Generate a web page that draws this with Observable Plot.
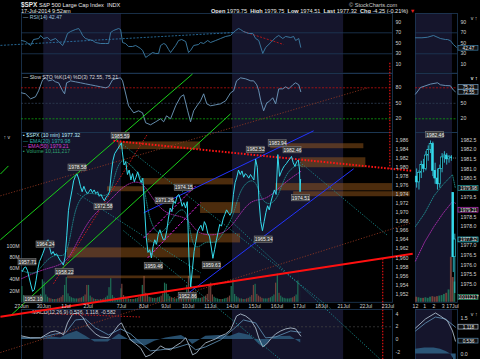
<!DOCTYPE html>
<html><head><meta charset="utf-8">
<script src="https://cdn.jsdelivr.net/npm/d3@7"></script>
<script src="https://cdn.jsdelivr.net/npm/@observablehq/plot@0.6"></script>
<style>
body{margin:0;background:#000;}
#c{position:relative;width:480px;height:359px;overflow:hidden;background:#000;font-family:"Liberation Sans",Arial,sans-serif;}
#c svg{position:absolute;left:0;}
.t{position:absolute;color:#e8e8e8;font-size:5.6px;white-space:nowrap;line-height:6px;}
.t b{font-weight:bold;}
</style></head><body><div id="c">
<div class="t" style="left:21px;top:2px"><b style="font-size:6.4px">$SPX</b> S&amp;P 500 Large Cap Index &nbsp;INDX</div>
<div class="t" style="left:21px;top:7.5px">17-Jul-2014 9:52am</div>
<div class="t" style="left:349px;top:2px;color:#ccc">© StockCharts.com</div>
<div class="t" style="left:211px;top:7.5px"><b>Open</b> 1979.75 &nbsp;<b>High</b> 1979.75 &nbsp;<b>Low</b> 1974.51 &nbsp;<b>Last</b> 1977.32 &nbsp;<b>Chg</b> -4.25 (-0.21%) <span style="color:#e02020">▼</span></div>
</div>
<script>
// ---------------- data ----------------
const dayLabels = ["27Jun","30Jun","1Jul","2Jul","3Jul","7Jul","8Jul","9Jul","10Jul","11Jul","14Jul","15Jul","16Jul","17Jul","18Jul","21Jul","22Jul","23Jul"];
const dayStart  = [0,1,2,3,4,4.5,5.5,6.5,7.5,8.5,9.5,10.5,11.5,12.5,13.5,14.5,15.5,16.5];
const shownDayLabels = ["27Jun","30Jun","1Jul","2Jul","7Jul","8Jul","9Jul","10Jul","11Jul","14Jul","15Jul","16Jul","17Jul","18Jul","21Jul","22Jul","23Jul"];
const barMinutes = [30,30,30,30,30,30,30,30,30,30,30,30,30,10];
const priceCloses = [
 [1957.0,1957.8,1958.0,1957.2,1955.6,1954.0,1952.6,1953.0,1955.0,1957.4,1959.2,1960.0,1961.0],
 [1962.0,1963.6,1964.0,1962.2,1960.8,1961.4,1960.6,1960.9,1960.2,1959.5,1959.0,1958.4,1960.2],
 [1965.0,1970.5,1972.8,1974.8,1977.0,1978.0,1978.5,1977.4,1975.8,1974.6,1975.8,1974.8,1974.2],
 [1974.6,1975.2,1974.4,1975.0,1974.2,1974.6,1973.6,1974.0,1973.2,1972.6,1973.4,1973.8,1974.6],
 [1978.5,1981.5,1983.0,1983.6,1984.2,1984.8,1985.4],
 [1983.4,1980.5,1981.2,1978.4,1979.4,1977.2,1978.6,1976.8,1977.8,1979.0,1977.6,1976.6,1977.6],
 [1971.0,1964.5,1961.2,1961.8,1960.0,1962.5,1964.0,1963.0,1965.2,1966.2,1965.0,1964.0,1964.2],
 [1966.0,1968.8,1971.0,1970.2,1972.6,1972.0,1973.6,1974.0,1973.0,1971.4,1972.2,1971.0,1972.4],
 [1960.0,1953.6,1957.4,1961.4,1963.6,1965.8,1966.6,1967.2,1966.0,1968.0,1967.2,1965.4,1964.8],
 [1962.4,1959.9,1961.8,1963.8,1965.6,1967.4,1967.0,1968.6,1969.6,1970.6,1970.0,1969.4,1970.2],
 [1974.0,1976.6,1977.8,1979.4,1978.4,1979.2,1977.8,1978.6,1978.2,1977.6,1978.4,1977.8,1977.2],
 [1981.8,1980.0,1972.5,1968.0,1966.0,1968.0,1970.0,1971.5,1970.6,1972.4,1973.8,1975.0,1974.0],
 [1982.8,1978.0,1979.0,1979.8,1980.4,1980.8,1981.4,1981.8,1982.4,1981.0,1980.2,1981.2,1981.6],
 [1979.6,1974.6,1977.32]
];
const volumesM = [
 [28,12,9,7,6,5,5,5,6,7,9,14,40],
 [36,13,9,7,6,5,5,5,6,7,9,12,30],
 [44,15,10,8,7,6,6,6,7,8,10,13,30],
 [30,11,8,6,5,5,4,5,5,6,8,11,26],
 [42,12,8,6,5,7,24],
 [32,12,9,7,6,5,5,5,6,7,9,12,30],
 [46,16,12,9,8,7,7,7,8,9,11,15,34],
 [32,14,10,8,7,6,6,6,7,8,10,13,30],
 [46,18,13,10,8,7,7,7,8,9,11,14,32],
 [34,13,9,7,6,5,5,5,6,7,8,11,28],
 [40,14,10,8,6,6,5,5,6,7,9,12,30],
 [32,14,11,9,7,6,6,6,7,8,10,13,34],
 [50,16,11,8,7,6,6,6,7,8,10,13,38],
 [60,30,20]
];
const ema20T = [0,0.63,1.0,1.53,1.98,2.21,2.43,2.88,3.56,4.01,4.23,4.55,5.14,5.5,5.72,6.26,6.94,7.48,7.70,8.29,8.74,9.19,9.55,9.86,10.54,10.77,11.22,11.58,11.89,12.48,12.66];
const ema20P = [1957.2,1956.1,1958.9,1961.1,1959.8,1964.9,1971.5,1974.8,1973.7,1973.7,1979.2,1982.5,1979.2,1977.5,1968.2,1963.8,1970.4,1971.5,1960.5,1964.2,1962.7,1966.4,1969.3,1975.9,1978.1,1972.6,1971.5,1973.7,1978.8,1981.0,1979.98];
const ema50T = [0,1.0,1.98,2.43,3.11,4.01,4.55,5.36,5.81,6.49,7.48,7.84,8.51,9.19,9.64,10.32,10.99,11.67,12.21,12.61];
const ema50P = [1955.4,1957.6,1958.5,1962.7,1969.3,1972.6,1975.9,1977.5,1973.7,1969.3,1969.3,1965.5,1964.9,1965.5,1968.2,1973.1,1972.6,1975.9,1977.9,1979.21];

const rsiT = [0,0.18,0.41,0.54,0.77,0.86,0.99,1.17,1.31,1.53,1.67,1.85,1.94,2.07,2.21,2.43,2.57,2.66,2.75,2.88,3.02,3.20,3.33,3.56,3.78,3.92,4.01,4.14,4.37,4.46,4.55,4.68,4.82,5.0,5.14,5.36,5.45,5.59,5.72,5.90,6.04,6.17,6.26,6.40,6.49,6.62,6.71,6.94,7.07,7.21,7.39,7.52,7.61,7.75,7.97,8.06,8.20,8.38,8.51,8.74,8.96,9.19,9.41,9.50,9.64,9.77,9.86,9.99,10.23,10.41,10.54,10.68,10.86,10.99,11.22,11.44,11.58,11.76,11.89,12.12,12.25,12.34,12.48,12.57];
const rsiV = [55.3,53.4,45.8,57.2,59.1,64.9,59.1,61,55.3,59.1,53.4,45.8,53.4,68.7,72.5,76.3,78.2,72.5,64.9,59.1,57.2,55.3,51.5,49.6,49.6,49.6,70.6,74.4,78.2,76.3,51.5,49.6,43.9,43.9,45.8,40.1,36.3,23,26.8,32.4,30.6,30.6,45.8,49.6,47.7,38.2,32.4,45.8,55.3,57.2,53.4,32.4,36.3,45.8,47.7,51.5,49.6,55.3,51.5,55.3,59.1,63,64.9,68.7,74.4,78.2,76.3,72.5,68.7,68.7,59.1,55.3,30.6,42,51.5,61,64.9,59.1,63,61,63,55.3,59.1,42.47];
const stoT = [0,0.18,0.41,0.63,0.77,0.95,1.08,1.22,1.40,1.53,1.67,1.85,1.94,2.03,2.21,2.43,2.66,2.88,3.11,3.33,3.56,3.78,3.92,4.10,4.23,4.46,4.55,4.82,5.05,5.27,5.45,5.59,5.81,6.04,6.26,6.40,6.53,6.71,6.94,7.16,7.30,7.48,7.61,7.75,7.93,8.06,8.20,8.34,8.51,8.74,8.96,9.19,9.41,9.55,9.68,9.86,10.09,10.32,10.45,10.59,10.68,10.77,10.90,11.04,11.13,11.31,11.44,11.58,11.76,11.89,12.03,12.21,12.34,12.48,12.57];
const stoV = [70.3,68.4,58.7,62.6,74.2,95.5,99.3,93.5,95.5,91.6,89.7,74.2,68.4,89.7,93.5,91.6,89.7,87.7,85.8,83.9,81.9,80,81.9,95.5,97.4,99.3,93.5,45.2,31.6,35.5,31.6,12.3,8.4,14.2,20,14.2,25.8,20,45.2,62.6,66.5,35.5,14.2,35.5,47.1,54.9,68.4,49,45.2,47.1,49,54.9,70.3,74.2,93.5,99.3,97.4,93.5,93.5,85.8,74.2,54.9,35.5,51,52.9,60.7,49,78,78,81.9,78,85.8,89.7,85.8,72.55];
const macdT = [0,0.41,0.86,1.08,1.31,1.53,1.76,1.89,2.07,2.30,2.52,2.75,3.02,3.33,3.56,3.92,4.14,4.37,4.50,4.68,4.91,5.14,5.36,5.59,5.81,6.04,6.26,6.49,6.71,6.94,7.16,7.39,7.52,7.70,7.88,8.06,8.29,8.51,8.74,8.96,9.19,9.41,9.55,9.68,9.86,10.09,10.32,10.54,10.68,10.86,11.04,11.22,11.44,11.67,11.89,12.12,12.34,12.57];
const macdV = [0.55,0.24,0.24,0.71,1.18,1.34,1.02,0.71,2.61,4.03,4.19,3.55,1.97,0.87,0.39,0.24,1.18,2.29,2.61,1.34,-0.08,-0.71,-1.34,-2.76,-2.45,-1.82,-1.03,-1.5,-1.66,-1.03,-0.55,0.24,-0.71,-2.45,-2.13,-1.34,-0.55,-0.24,0.08,0.55,0.87,1.5,2.61,3.71,4.03,3.71,3.08,1.82,0.24,-1.18,-0.71,0.08,0.87,1.34,1.66,1.82,1.66,0.536];
const signalT = [0,0.86,1.53,1.98,2.43,2.88,3.33,3.92,4.46,4.91,5.36,5.81,6.26,6.94,7.52,7.84,8.29,8.96,9.55,9.99,10.54,10.99,11.44,12.12,12.57];
const signalV = [0.24,0.24,0.87,1.02,3.08,3.24,1.82,0.71,1.66,0.87,-0.55,-1.82,-1.66,-1.34,-0.71,-1.66,-1.18,-0.08,1.66,3.08,2.61,0.24,0.39,1.34,1.118];
const histT = [0,0.9,1.3,1.76,2.1,2.5,2.9,3.3,3.9,4.4,4.7,5.1,5.6,6.0,6.5,7.2,7.5,7.7,8.3,8.9,9.4,9.8,10.3,10.7,10.9,11.4,12.1,12.57];
const histV = [0.2,0,0.4,0.2,0.8,1.3,0.5,-0.4,-0.4,0.8,0.2,-0.6,-1.0,-0.3,0.2,0.6,0,-0.8,0.5,0.6,0.5,1.0,0.6,-0.8,-1.3,0.4,0.5,-0.58];

const labelT = [0.27,0.54,1.08,1.94,2.52,3.69,4.46,5.95,6.44,7.30,7.48,8.56,10.54,10.90,11.53,12.20,12.57];
const labelP = [1957.71,1952.10,1964.24,1958.22,1978.58,1972.58,1985.59,1959.46,1971.26,1974.15,1952.86,1959.63,1982.52,1965.34,1983.94,1982.46,1974.51];
const labelSide = [-1,1,1,1,-1,1,-1,1,-1,-1,1,1,-1,1,-1,-1,1];

// trend lines [t1, p1, t2, p2]
const greenLines = [[-0.95,1964.0,7.70,2000.6],[-0.50,1947.2,9.41,1991.8],[-0.95,1978.5,-0.59,1980.3]];
const redSolid = [[-0.95,1947.0,17.61,1960.9]];
const redDotted = [[4.14,1985.85,17.61,1979.2]];
const redVertical = [[16.58,2003.06,16.58,1979.66],[16.26,1959.8,16.26,1937.5]];
const redThinDotted = [[1.44,1954.3,5.68,1987.4]];
const brownDotted = [[-0.95,1973.7,15.59,1997.55],[-0.95,1939.1,17.52,1967.7]];
const blueLines = [[5.50,1969.95,13.15,1988.05],[7.48,1952.1,14.95,1979.66]];
const magentaLines = [[5.68,1960.0,8.06,1972.2],[5.50,1964.4,7.84,1975.9]];
const tealLines = [[4.46,1985.4,13.92,1948.8],[12.34,1981.9,16.49,1964.9],[9.41,1968.2,16.17,1937.5],[2.52,1974.2,8.06,1956.7],[4.59,1966.0,11.67,1937.5]];
// orange zones [t1, t2, p1, p2]
const zones = [[4.37,8.06,1983.9,1985.6],[11.22,15.41,1984.1,1985.2],[12.57,15.5,1979.9,1982.1],[5.5,9.55,1976.1,1977.5],[3.87,5.5,1974.6,1975.7],[11.44,16.7,1974.8,1976.4],[12.25,17.5,1973.5,1974.6],[2.07,8.06,1960.0,1962.2],[5.68,9.86,1963.3,1965.3],[2.07,8.06,1955.4,1956.0],[8.06,9.86,1969.8,1972.2]];
const rsiTrend = [[-0.95,46.0,9.55,70.5]];
const rsiRedTrend = [[9.99,72.5,11.8,47.7]];
const macdRedTrend = [[0.41,4.19,5.36,3.55]];

const priceTicks = [1986,1984,1982,1980,1978,1976,1974,1972,1970,1968,1966,1964,1962,1960,1958,1956,1954,1952];
const volTicks = [20,40,60,80,100];
const rsiTicks = [90,70,50,30,10];
const stoTicks = [80,50,20];
const macdTicks = [4,2,0,-2];
const weekBands = [[1,4.5],[9.5,14.5]];

// mini (Jul 16 noon -> Jul 17 open), hours
const miniHourLabels = ["12","1","2","3","17Jul"];
const miniHourTicks = [12,13,14,15,16];
const miniOpen  = [1980.6,1980.3,1980.8,1981.2,1981.0,1981.7,1982.0,1982.3,1980.9,1980.5,1980.2,1981.0,1981.6,1981.7,1981.5,1981.6,1979.75,1976.4];
const miniHigh  = [1981.0,1980.9,1981.4,1981.5,1981.9,1982.2,1982.46,1982.4,1981.3,1981.0,1981.2,1981.8,1981.9,1981.8,1981.7,1981.7,1979.75,1977.6];
const miniLow   = [1980.0,1979.9,1980.5,1980.8,1980.9,1981.4,1981.8,1980.6,1980.2,1979.9,1980.0,1980.8,1981.3,1981.2,1981.3,1981.4,1975.6,1974.51];
const miniClose = [1980.3,1980.8,1981.2,1981.0,1981.7,1982.0,1982.3,1980.9,1980.5,1980.2,1981.0,1981.6,1981.7,1981.5,1981.6,1981.57,1976.4,1977.32];
const miniVol   = [9,8,7,7,8,7,9,10,9,10,11,12,14,16,22,80,44,36];
const miniEmaH = [12,13,14,15,16,16.32];
const miniEma20 = [1978.0,1978.7,1979.6,1980.2,1980.7,1979.98];
const miniEma50 = [1976.2,1977.2,1978.0,1978.7,1979.3,1979.21];
const miniRsiH = [12,12.7,13.3,13.95,14.7,15.24,15.46,15.78,16.1,16.43];
const miniRsiV = [60.5,60.5,61.5,64.9,59.1,57.2,57.2,55,47.7,42.47];
const miniStoH = [12,12.54,13.62,14.38,14.7,15.24,15.78,16.1,16.3];
const miniStoV = [67.8,80.6,87.2,89.7,85.8,84.4,83.9,75.5,72.55];
const miniMacdH = [12,13.08,14.16,14.7,15.46,16,16.32];
const miniMacdV = [1.08,1.46,1.71,1.58,1.375,0.96,0.536];
const miniSigH = [12,13.08,14.16,15.24,16.32];
const miniSigV = [0.96,1.29,1.54,1.46,1.118];
const miniHistH = [12,13,14,14.7,15.3,15.8,16.1,16.4];
const miniHistV = [0.2,0.25,0.25,0.2,0.1,0.0,-0.2,-0.58];
const miniPriceTicks = [1982.5,1982.0,1981.5,1981.0,1980.5,1979.5,1978.5,1978.0,1977.0,1976.5,1976.0,1975.5,1975.0];

// ---------------- helpers ----------------
const FONT = "Liberation Sans, Arial, sans-serif";
const X_DOMAIN = [0, 16.7];
const MINI_X = [12, 16.54];
const root = document.getElementById("c");
const navy = "#15152c", frameCol = "#1e3a58", txt = "#cfcfcf";
function panel(top, bottom, yDomain, marks, o = {}) {
  const left = o.left ?? 21, right = o.right ?? 392;
  const svg = Plot.plot({
    width: 480, height: bottom - top,
    marginTop: 0, marginBottom: 0, marginLeft: left, marginRight: 480 - right,
    x: {domain: o.x ?? X_DOMAIN, ...(o.xAxis ? {} : {axis: null})},
    y: {domain: yDomain, ...(o.yAxis ? {} : {axis: null})},
    style: {background: "transparent", overflow: "visible", color: txt, fontFamily: FONT, fontSize: "5px"},
    marks
  });
  svg.style.position = "absolute"; svg.style.top = top + "px"; svg.style.left = "0px";
  root.appendChild(svg);
}
const pts = (T, V) => T.map((t, i) => ({t, v: V[i]}));
const segs = a => a.map(([x1, y1, x2, y2]) => ({x1, y1, x2, y2}));
const bands = (X = weekBands) => Plot.rect(X, {x1: d => d[0], x2: d => d[1], fill: navy});
const frame = () => Plot.frame({stroke: frameCol, strokeWidth: 0.8});
const legend = (s, fill, dy = 1.5, dx = 1.5) => Plot.text([s], {text: d => d, frameAnchor: "top-left", textAnchor: "start", lineAnchor: "top", dx, dy, fill, fontSize: 5.2});
const rightAxis = (ticks, fmt = d => d) => Plot.axisY({anchor: "right", ticks, tickSize: 0, tickPadding: 3, tickFormat: fmt, fontSize: 5.2, fill: txt});
// value box on the right of a mini panel: drawn at "at", showing "label"
function valueBox(at, label, stroke, fill = "#111") {
  return [
    Plot.rect([at], {x1: () => MINI_X[1], x2: () => MINI_X[1], y1: d => d, y2: d => d, insetLeft: 1, insetRight: -21, insetTop: -2.4, insetBottom: -2.4, fill, stroke, strokeWidth: 0.7}),
    Plot.text([at], {x: () => MINI_X[1], y: d => d, dx: 11, text: () => label, fill: "#e8e8e8", fontSize: 4.7})
  ];
}

// ---------------- RSI ----------------
const RSI_D = [-7, 106.8];
panel(13, 72.7, RSI_D, [
  bands(),
  Plot.ruleY([70, 30], {stroke: frameCol, strokeWidth: 0.8}),
  frame(),
  Plot.link(segs(rsiTrend), {x1: "x1", y1: "y1", x2: "x2", y2: "y2", stroke: "#2f7fb5", strokeWidth: 0.8, strokeDasharray: "2,1.5"}),
  Plot.link(segs(rsiRedTrend), {x1: "x1", y1: "y1", x2: "x2", y2: "y2", stroke: "#d01818", strokeWidth: 0.8, strokeDasharray: "2,1.5"}),
  Plot.line(pts(rsiT, rsiV), {x: "t", y: "v", stroke: "#3d7fa8", strokeWidth: 0.9}),
  legend("— RSI(14) 42.47", "#9fc4de"),
  rightAxis(rsiTicks)
], {yAxis: true});

// ---------------- Slow STO ----------------
const STO_D = [-6.5, 107.7];
panel(72.7, 131.7, STO_D, [
  bands(),
  frame(),
  Plot.ruleY([80], {stroke: "#c01010", strokeWidth: 0.8, strokeDasharray: "2,1.5"}),
  Plot.ruleY([50], {stroke: "#2e3e52", strokeWidth: 0.8, strokeDasharray: "2,1.5"}),
  Plot.ruleY([20], {stroke: "#10a010", strokeWidth: 0.8, strokeDasharray: "2,1.5"}),
  Plot.line(pts(stoT, stoV), {x: "t", y: "v", stroke: "#6f9cc0", strokeWidth: 0.9}),
  legend("— Slow STO %K(14) %D(3) 72.55, 75.21", "#d8d8d8"),
  rightAxis(stoTicks)
], {yAxis: true});

// ---------------- MACD ----------------
const MACD_D = [-3.27, 4.74];
panel(308.5, 359, MACD_D, [
  bands(),
  frame(),
  Plot.ruleY([2], {stroke: "#444", strokeWidth: 0.7, strokeDasharray: "2,2"}),
  Plot.areaY(pts(histT, histV), {x: "t", y: "v", fill: "#2b5678", fillOpacity: 0.9}),
  Plot.line(pts(signalT, signalV), {x: "t", y: "v", stroke: "#5a88ac", strokeWidth: 0.9}),
  Plot.line(pts(macdT, macdV), {x: "t", y: "v", stroke: "#a9b9c8", strokeWidth: 0.9}),
  Plot.link(segs(macdRedTrend), {x1: "x1", y1: "y1", x2: "x2", y2: "y2", stroke: "#c01818", strokeWidth: 1, strokeDasharray: "1.5,1.5"}),
  legend("— MACD(12,26,9) 0.536, 1.118, -0.582", "#d8d8d8", 0.5, 4),
  rightAxis(macdTicks)
], {yAxis: true});

// ---------------- main panel ----------------
const MAIN_TOP = 131.7, MAIN_BOT = 301.5;
const PRICE_D = [1950.19, 1987.68];
const priceData = priceCloses.flatMap((row, d) => row.map((p, i) => ({t: dayStart[d] + (i + 0.5) * barMinutes[d] / 390, p})));
const volData = volumesM.flatMap((row, d) => row.map((v, i) => {
  const w = barMinutes[d] / 390;
  const t0 = dayStart[d] + i * w;
  const prev = i > 0 ? priceCloses[d][i - 1] : (d > 0 ? priceCloses[d - 1].at(-1) : priceCloses[0][0]);
  return {t0, t1: t0 + w, v, up: priceCloses[d][i] >= prev};
}));
panel(MAIN_TOP, MAIN_BOT, [0, 301.8], [
  bands(),
  frame(),
  Plot.rectY(volData, {x1: "t0", x2: "t1", y: "v", fill: d => d.up ? "#1d6e55" : "#74403a", insetLeft: 0.25, insetRight: 0.25}),
  Plot.axisY({anchor: "left", ticks: volTicks, tickSize: 0, tickPadding: 2, tickFormat: d => d + "M", fontSize: 5.2, fill: txt})
], {yAxis: true});
panel(MAIN_TOP, MAIN_BOT, PRICE_D, [
  Plot.rect(zones, {x1: d => d[0], x2: d => d[1], y1: d => d[2], y2: d => d[3], fill: "#a8621c", fillOpacity: 0.45})
]);
const linkOpts = (stroke, w, dash) => ({x1: "x1", y1: "y1", x2: "x2", y2: "y2", stroke, strokeWidth: w, strokeDasharray: dash});
const lbl = labelT.map((t, i) => ({t, p: labelP[i], s: labelP[i].toFixed(2), side: labelSide[i]}));
const boxOpts = dy => ({x1: "t", x2: "t", y1: "p", y2: "p", insetLeft: -9, insetRight: -9, insetTop: -3.2, insetBottom: -3.2, dy, fill: "#3c3c3c", stroke: "#8a8a8a", strokeWidth: 0.5});
panel(MAIN_TOP, MAIN_BOT, PRICE_D, [
  Plot.line(pts(ema50T, ema50P), {x: "t", y: "v", stroke: "#c030c0", strokeWidth: 0.8, strokeDasharray: "1,1.3", curve: "basis"}),
  Plot.line(pts(ema20T, ema20P), {x: "t", y: "v", stroke: "#1f9a9a", strokeWidth: 0.8, strokeDasharray: "1,1.3", curve: "basis"}),
  Plot.link(segs(brownDotted), linkOpts("#9a3a22", 0.8, "1.2,1.6")),
  Plot.link(segs(tealLines), linkOpts("#1aa0a0", 0.8, "1.2,1.6")),
  Plot.link(segs(redThinDotted), linkOpts("#e01818", 0.9, "1.5,1.5")),
  Plot.link(segs(greenLines), linkOpts("#19d019", 1, null)),
  Plot.link(segs(blueLines), linkOpts("#2233ff", 1, null)),
  Plot.link(segs(magentaLines), linkOpts("#e020e0", 1, "2.5,1.5")),
  Plot.link(segs(redSolid), linkOpts("#ff1010", 2, null)),
  Plot.link(segs(redDotted), linkOpts("#ff1515", 2, "1.6,1.6")),
  Plot.link(segs(redVertical), linkOpts("#e01010", 1.2, "1.5,1.5")),
  Plot.line(priceData, {x: "t", y: "p", stroke: "#34dbec", strokeWidth: 1}),
  Plot.rect(lbl.filter(d => d.side < 0), boxOpts(-6)),
  Plot.text(lbl.filter(d => d.side < 0), {x: "t", y: "p", text: "s", dy: -6, fill: "#f0f0f0", fontSize: 5}),
  Plot.rect(lbl.filter(d => d.side > 0), boxOpts(6)),
  Plot.text(lbl.filter(d => d.side > 0), {x: "t", y: "p", text: "s", dy: 6, fill: "#f0f0f0", fontSize: 5}),
  legend("▪ $SPX (10 min) 1977.32", "#bfefff", 1.2),
  legend("— EMA(20) 1979.98", "#29a8a8", 6.4),
  legend("-- EMA(50) 1979.21", "#d040d0", 11.6),
  legend("▪ Volume 10,111,217", "#2fa070", 16.8),
  rightAxis(priceTicks),
  Plot.axisX({anchor: "bottom", ticks: dayStart.filter((d, i) => shownDayLabels.includes(dayLabels[i])), tickSize: 0, tickPadding: 2.5, tickFormat: t => dayLabels[dayStart.indexOf(t)], fontSize: 5.2, fill: txt})
], {yAxis: true, xAxis: true});

// ---------------- mini panels ----------------
const mini = {left: 415, right: 457, x: MINI_X};
const miniBands = [[12, 16]];
panel(13, 72.7, RSI_D, [
  bands(miniBands), Plot.ruleY([70, 30], {stroke: frameCol, strokeWidth: 0.8}), frame(),
  Plot.line(pts(miniRsiH, miniRsiV), {x: "t", y: "v", stroke: "#3d7fa8", strokeWidth: 0.9}),
  rightAxis(rsiTicks), ...valueBox(40.5, "42.47", "#3d7fa8")
], {...mini, yAxis: true});
panel(72.7, 131.7, STO_D, [
  bands(miniBands), frame(),
  Plot.ruleY([80], {stroke: "#c01010", strokeWidth: 0.8, strokeDasharray: "2,1.5"}),
  Plot.ruleY([50], {stroke: "#2e3e52", strokeWidth: 0.8, strokeDasharray: "2,1.5"}),
  Plot.ruleY([20], {stroke: "#10a010", strokeWidth: 0.8, strokeDasharray: "2,1.5"}),
  Plot.line(pts(miniStoH, miniStoV), {x: "t", y: "v", stroke: "#6f9cc0", strokeWidth: 0.9}),
  Plot.axisY({anchor: "right", ticks: [50, 20], tickSize: 0, tickPadding: 3, fontSize: 5.2, fill: txt}),
  ...valueBox(81, "75.21", "#6f9cc0"), ...valueBox(71.3, "72.55", "#6f9cc0")
], {...mini, yAxis: true});
panel(308.5, 359, [-0.25, 1.854], [
  bands(miniBands), frame(),
  Plot.areaY(pts(miniHistH, miniHistV), {x: "t", y: "v", fill: "#2b5678"}),
  Plot.line(pts(miniSigH, miniSigV), {x: "t", y: "v", stroke: "#5a88ac", strokeWidth: 0.9}),
  Plot.line(pts(miniMacdH, miniMacdV), {x: "t", y: "v", stroke: "#a9b9c8", strokeWidth: 0.9}),
  rightAxis([1.5, 0.0], d => d.toFixed(1)), ...valueBox(1.118, "1.118", "#a9b9c8"), ...valueBox(0.536, "0.536", "#5a88ac")
], {...mini, yAxis: true});
const candles = miniOpen.map((o, i) => ({h: i < 16 ? 12.125 + i * 0.25 : 16.083 + (i - 16) * 0.167, o, hi: miniHigh[i], lo: miniLow[i], c: miniClose[i], vol: miniVol[i]}));
panel(MAIN_TOP, MAIN_BOT, [0, 301.8], [
  bands(miniBands), frame(),
  Plot.rectY(candles, {x1: d => d.h - 0.1, x2: d => d.h + 0.1, y: "vol", fill: d => d.c >= d.o ? "#1d6e55" : "#74403a"}),
], {...mini});
panel(MAIN_TOP, MAIN_BOT, [1974.05, 1982.9], [
  Plot.line(pts(miniEmaH, miniEma50), {x: "t", y: "v", stroke: "#c030c0", strokeWidth: 0.8, strokeDasharray: "1,1.3"}),
  Plot.line(pts(miniEmaH, miniEma20), {x: "t", y: "v", stroke: "#1f9a9a", strokeWidth: 0.8, strokeDasharray: "1,1.3"}),
  Plot.ruleY([1981.57], {x1: 15.9, x2: 16.54, stroke: "#999", strokeWidth: 0.7, strokeDasharray: "1,1"}),
  Plot.ruleX(candles, {x: "h", y1: "lo", y2: "hi", stroke: "#34dbec", strokeWidth: 0.8}),
  Plot.rect(candles, {x1: "h", x2: "h", y1: "o", y2: "c", insetLeft: -0.9, insetRight: -0.9, fill: d => d.c >= d.o ? "#000" : "#34dbec", stroke: "#34dbec", strokeWidth: 0.6}),
  Plot.rect([14.125], {x1: d => d, x2: d => d, y1: () => 1982.46, y2: () => 1982.46, insetLeft: -9, insetRight: -9, insetTop: -3.2, insetBottom: -3.2, dy: -6, fill: "#3c3c3c", stroke: "#8a8a8a", strokeWidth: 0.5}),
  Plot.text([14.125], {x: d => d, y: () => 1982.46, text: () => "1982.46", dy: -6, fill: "#f0f0f0", fontSize: 5}),
  rightAxis(miniPriceTicks, d => d.toFixed(1)),
  ...valueBox(1979.98, "1979.98", "#1f9a9a"), ...valueBox(1978.85, "1979.21", "#c030c0"), ...valueBox(1977.3, "1977.32", "#34dbec"),
  ...valueBox(1974.3, "10111217", "#2fa070"),
  Plot.axisX({anchor: "bottom", ticks: miniHourTicks, tickSize: 0, tickPadding: 2.5, tickFormat: d => miniHourLabels[miniHourTicks.indexOf(d)], fontSize: 5.2, fill: txt})
], {...mini, yAxis: true, xAxis: true});
</script></body></html>
